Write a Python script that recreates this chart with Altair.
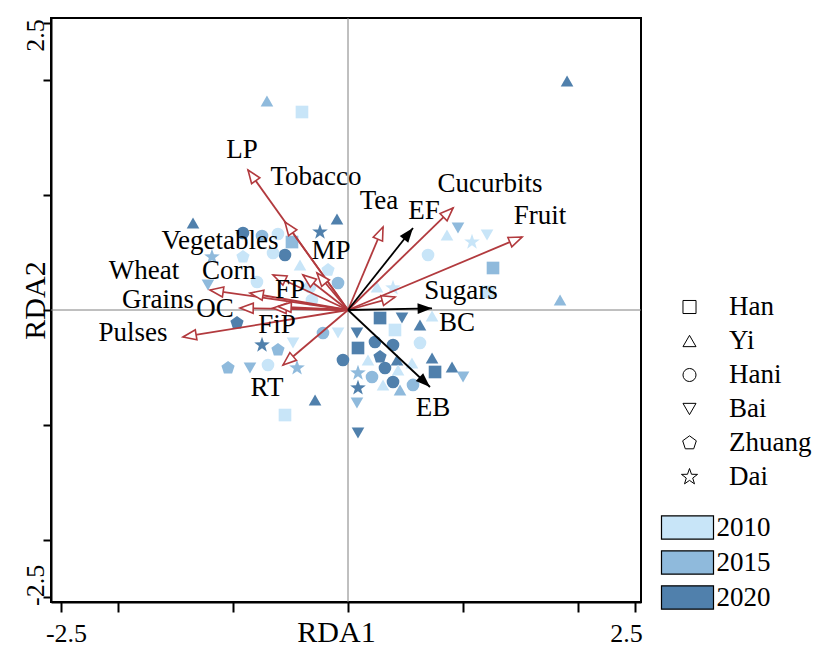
import altair as alt
import numpy as np
import pandas as pd

# ---------------- data ----------------
groups = ["Han", "Yi", "Hani", "Bai", "Zhuang", "Dai"]
years = ["2010", "2015", "2020"]

pt_x = [-0.706, -0.401, 1.908, 1.847, -1.350, -0.244, -0.096, -0.915, -0.749, -0.488,
        -0.610, -1.185, -0.915, -0.549, -0.653, -0.418, -0.174, -0.087, -0.793, -0.314,
        -1.220, -0.967, -0.218, -0.087, -0.749, -0.610, -0.479, -0.444, -1.045, -0.854,
        -0.697, -0.287, -0.549, -0.331, 0.279, 0.470, 0.627, 0.409, 0.078, 0.235,
        0.392, 0.627, 0.087, 0.279, -0.044, 0.174, 0.427, 0.732, 0.906, 1.002,
        0.758, 0.322, 0.436, 0.557, 0.087, 0.209, 0.305, 0.392, 0.566, 0.453,
        0.087, 0.078, 0.087, 0.732, 0.862, 0.958, 1.080, 1.211, 0.697, 1.263,
        0.253, 0.392, 1.220]
pt_y = [1.821, 1.725, 1.995, 0.087, 0.758, 0.679, 0.793, 0.671, 0.645, 0.592,
        0.662, 0.462, 0.462, 0.479, 0.497, 0.392, 0.348, 0.235, 0.244, 0.087,
        0.218, -0.113, -0.200, -0.200, -0.305, -0.348, -0.287, -0.505, -0.505, -0.505,
        -0.479, -0.784, -0.915, 0.200, -0.070, -0.070, -0.131, -0.174, -0.200, -0.279,
        -0.305, -0.287, -0.331, -0.409, -0.436, -0.436, -0.436, -0.418, -0.497, -0.584,
        -0.540, -0.505, -0.523, -0.462, -0.549, -0.584, -0.653, -0.627, -0.653, -0.697,
        -0.679, -0.810, -1.071, -0.052, 0.653, 0.714, 0.592, 0.653, 0.479, 0.366,
        0.200, 0.192, 0.157]
pt_group = ["Yi", "Han", "Yi", "Yi", "Yi", "Dai", "Yi", "Hani", "Hani", "Han",
            "Hani", "Dai", "Zhuang", "Hani", "Hani", "Yi", "Zhuang", "Hani", "Hani", "Hani",
            "Bai", "Zhuang", "Hani", "Bai", "Dai", "Zhuang", "Bai", "Dai", "Zhuang", "Bai",
            "Hani", "Yi", "Han", "Hani", "Han", "Bai", "Yi", "Han", "Bai", "Hani",
            "Hani", "Hani", "Han", "Zhuang", "Hani", "Yi", "Yi", "Yi", "Yi", "Bai",
            "Han", "Hani", "Yi", "Yi", "Dai", "Hani", "Yi", "Hani", "Hani", "Yi",
            "Dai", "Bai", "Bai", "Yi", "Yi", "Bai", "Dai", "Bai", "Hani", "Han",
            "Yi", "Dai", "Han"]
pt_year = ["2015", "2010", "2020", "2015", "2020", "2020", "2020", "2020", "2015", "2015",
           "2010", "2015", "2010", "2020", "2010", "2010", "2010", "2015", "2010", "2010",
           "2015", "2020", "2015", "2010", "2020", "2015", "2010", "2015", "2015", "2015",
           "2010", "2020", "2010", "2010", "2020", "2020", "2020", "2010", "2020", "2020",
           "2020", "2010", "2020", "2020", "2020", "2010", "2020", "2020", "2020", "2015",
           "2020", "2020", "2010", "2010", "2015", "2015", "2010", "2020", "2015", "2015",
           "2020", "2015", "2020", "2010", "2010", "2015", "2010", "2010", "2010", "2015",
           "2010", "2010", "2010"]

arrow_names = ["LP", "Tobacco", "Tea", "Cucurbits", "Fruit", "Sugars", "MP", "FP",
               "Vegetables", "Corn", "Wheat", "Grains", "OC", "FiP", "Pulses", "RT",
               "EF", "BC", "EB"]
arrow_x = [-0.871, -0.549, 0.305, 0.915, 1.516, 0.409, -0.270, -0.392,
           -0.653, -0.854, -1.202, -0.941, -0.653, -0.610, -1.437, -0.566,
           0.566, 0.732, 0.714]
arrow_y = [1.220, 0.767, 0.723, 0.889, 0.636, 0.113, 0.322, 0.305,
           0.305, 0.148, 0.174, 0.017, 0.017, 0.030, -0.235, -0.479,
           0.714, 0.015, -0.671]
arrow_kind = ["crop"] * 16 + ["factor"] * 3
label_x = [-0.923, -0.279, 0.270, 1.237, 1.672, 0.984, -0.148, -0.505,
           -1.115, -1.037, -1.777, -1.655, -1.159, -0.618, -1.873, -0.706,
           0.662, 0.949, 0.740]
label_y = [1.394, 1.159, 0.949, 1.098, 0.819, 0.166, 0.514, 0.174,
           0.601, 0.340, 0.340, 0.087, 0.009, -0.131, -0.200, -0.679,
           0.862, -0.113, -0.854]

tick_values = [-2.5, -2, -1, 0, 1, 2, 2.5]

# ---------------- styling ----------------
FONT = "Liberation Serif"
RED = "#B23A3E"
year_colors = ["#C8E5F8", "#8FBADC", "#5080AC"]
PENTAGON = "M0,-1.1L1.046,-0.34L0.647,0.89L-0.647,0.89L-1.046,-0.34Z"
STAR = ("M0,-1.3L0.306,-0.421L1.236,-0.402L0.494,0.161L0.764,1.052L0,0.52"
        "L-0.764,1.052L-0.494,0.161L-1.236,-0.402L-0.306,-0.421Z")
shape_range = ["square", "triangle-up", "circle", "triangle-down", PENTAGON, STAR]
HOLLOW_HEAD = "M0,0L-0.42,1.1L0.42,1.1Z"
SOLID_HEAD = "M0,0L-0.45,1.2L0.45,1.2Z"
RECT = "M-2,-0.9L2,-0.9L2,0.9L-2,0.9Z"

xscale = alt.Scale(domain=[-2.587, 2.552], nice=False, zero=False)
yscale = alt.Scale(domain=[-2.544, 2.544], nice=False, zero=False)
LBL = "datum.value == 2.5 ? '2.5' : (datum.value == -2.5 ? '-2.5' : '')"

x_axis = alt.Axis(values=tick_values, labelExpr=LBL, grid=False,
                  domainColor="black", domainWidth=2, tickColor="black", tickWidth=2,
                  tickSize=10, labelFont=FONT, labelFontSize=26, labelColor="black",
                  labelBaseline="alphabetic", labelPadding=29, labelOverlap=False,
                  labelOffset={"condition": {"test": "datum.value > 0", "value": -9}, "value": 5},
                  titleFont=FONT, titleFontSize=30, titleFontWeight="normal",
                  titleColor="black", titleBaseline="alphabetic", titleX=285, titleY=39,
                  titleAlign="center")
y_axis = alt.Axis(values=tick_values, labelExpr=LBL, grid=False,
                  domainColor="black", domainWidth=2, tickColor="black", tickWidth=2,
                  tickSize=8, labelFont=FONT, labelFontSize=26, labelColor="black",
                  labelAngle=270, labelAlign="center", labelBaseline="alphabetic",
                  labelPadding=0, labelOverlap=False,
                  labelOffset={"condition": {"test": "datum.value > 0", "value": 12}, "value": -12},
                  titleFont=FONT, titleFontSize=30, titleFontWeight="normal",
                  titleColor="black", titleAngle=270, titleBaseline="alphabetic",
                  titleX=-7, titleY=282, titleAlign="center")


def X(field):
    return alt.X(field, type="quantitative", scale=xscale, axis=x_axis, title="RDA1")


def Y(field):
    return alt.Y(field, type="quantitative", scale=yscale, axis=y_axis, title="RDA2")


pts = pd.DataFrame({"x": pt_x, "y": pt_y, "group": pt_group, "year": pt_year})
arr = pd.DataFrame({"name": arrow_names, "x": arrow_x, "y": arrow_y, "kind": arrow_kind,
                    "lx": label_x, "ly": label_y})
arr["x0"] = 0.0
arr["y0"] = 0.0
arr["ang"] = (np.degrees(np.arctan2(arr["x"], arr["y"])) + 360) % 360
zero = pd.DataFrame({"v": [0.0]})

vline = alt.Chart(zero).mark_rule(color="#808080", strokeWidth=1).encode(x=X("v"))
hline = alt.Chart(zero).mark_rule(color="#808080", strokeWidth=1).encode(y=Y("v"))

points = alt.Chart(pts).mark_point(filled=True, size=160, opacity=1).encode(
    x=X("x"), y=Y("y"),
    shape=alt.Shape("group:N", scale=alt.Scale(domain=groups, range=shape_range),
                    legend=alt.Legend(title=None, orient="none", direction="vertical",
                                      legendX=625, legendY=275.5, padding=0,
                                      symbolFillColor="white", symbolStrokeColor="black",
                                      symbolStrokeWidth=1, symbolSize=170,
                                      labelFont=FONT, labelFontSize=27, labelColor="black",
                                      labelOffset=26, rowPadding=6)),
    color=alt.Color("year:N", scale=alt.Scale(domain=years, range=year_colors),
                    legend=alt.Legend(title=None, orient="none", direction="vertical",
                                      legendX=622.5, legendY=495.5, padding=0,
                                      symbolType=RECT, symbolSize=676,
                                      symbolStrokeColor="black", symbolStrokeWidth=1.2,
                                      labelFont=FONT, labelFontSize=27, labelColor="black",
                                      labelOffset=15, rowPadding=5)),
)

red = alt.Chart(arr).transform_filter("datum.kind == 'crop'")
blk = alt.Chart(arr).transform_filter("datum.kind == 'factor'")

red_lines = red.mark_rule(color=RED, strokeWidth=1.8).encode(
    x=X("x0"), y=Y("y0"), x2="x:Q", y2="y:Q")
blk_lines = blk.mark_rule(color="black", strokeWidth=1.8).encode(
    x=X("x0"), y=Y("y0"), x2="x:Q", y2="y:Q")
red_heads = red.mark_point(shape=HOLLOW_HEAD, size=580, filled=True, fill="white",
                           stroke=RED, strokeWidth=1.6, opacity=1).encode(
    x=X("x"), y=Y("y"), angle=alt.Angle("ang:Q", scale=None))
blk_heads = blk.mark_point(shape=SOLID_HEAD, size=580, filled=True, fill="black",
                           opacity=1).encode(
    x=X("x"), y=Y("y"), angle=alt.Angle("ang:Q", scale=None))
labels = alt.Chart(arr).mark_text(font=FONT, fontSize=27, color="black",
                                  align="center", baseline="middle").encode(
    x=X("lx"), y=Y("ly"), text="name:N")

chart = alt.layer(vline, hline, points, red_lines, blk_lines, red_heads, blk_heads, labels).properties(
    width=590, height=584,
    padding={"left": 51, "top": 18, "right": 181, "bottom": 44},
    autosize=alt.AutoSizeParams(type="none"),
).configure_view(stroke="black", strokeWidth=2)

chart.save("out.html", embed_options={"renderer": "svg", "actions": False})
